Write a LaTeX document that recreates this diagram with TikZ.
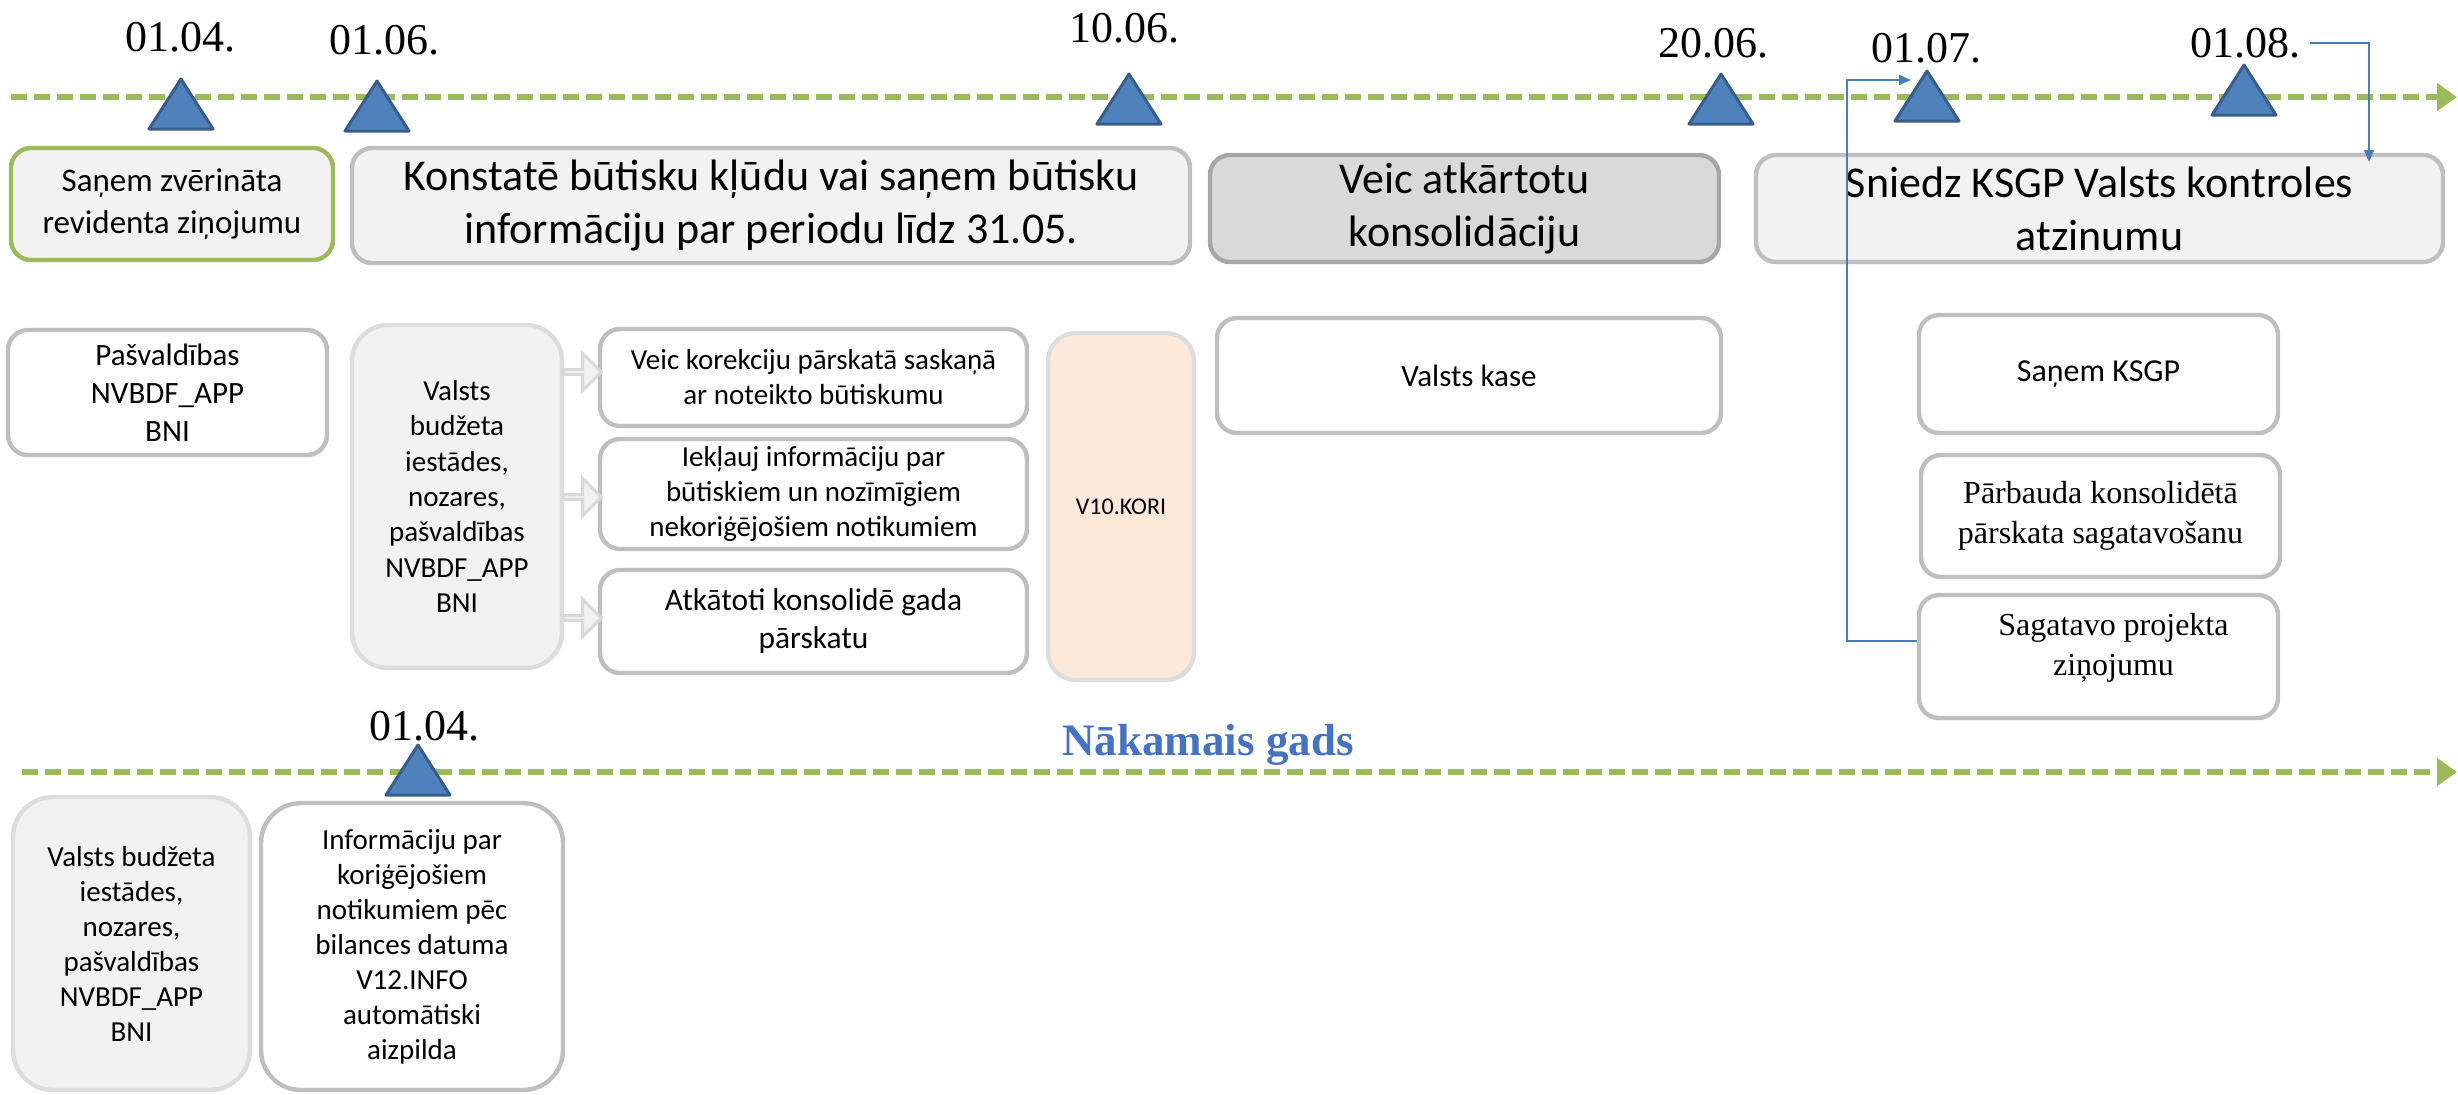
\documentclass[tikz,border=0pt]{standalone}
\usepackage{fontspec}
\setmainfont{Carlito}
\newfontfamily\timesfont{Liberation Serif}
\usetikzlibrary{arrows.meta,shapes.arrows}
\definecolor{tlgreen}{HTML}{9BBB59}
\definecolor{triblue}{HTML}{4F81BD}
\definecolor{triedge}{HTML}{385D8A}
\definecolor{boxline}{HTML}{BFBFBF}
\definecolor{boxfill}{HTML}{F2F2F2}
\definecolor{darkfill}{HTML}{D9D9D9}
\definecolor{darkline}{HTML}{A6A6A6}
\definecolor{softline}{HTML}{DDDDDD}
\definecolor{peach}{HTML}{FDE9D9}
\definecolor{linkblue}{HTML}{4A7EBB}
\definecolor{nextblue}{HTML}{4472C4}
\begin{document}
\begin{tikzpicture}[x=0.5pt, y=-0.5pt,
	box/.style={draw=boxline, fill=white, line width=2.2pt, rounded corners=10pt, align=center, inner sep=2pt, font=\fontsize{14.5}{17.5}\selectfont},
	softbox/.style={box, draw=softline, fill=boxfill, rounded corners=18pt},
	head/.style={box, fill=boxfill, font=\fontsize{22}{26.5}\selectfont},
	date/.style={font=\timesfont\fontsize{22}{26}\selectfont, inner sep=0pt},
	timeline/.style={draw=tlgreen, line width=3pt, dash pattern=on 8pt off 3.5pt, -{Triangle[length=10pt,width=13.5pt]}},
	tri/.style={fill=triblue, draw=triedge, line width=1.5pt, line join=round},
	link/.style={draw=linkblue, line width=1pt, -{Triangle[length=6pt,width=5pt]}},
	blockarr/.style={single arrow, draw=gray!30, fill=gray!10, line width=1.5pt, minimum height=19pt, minimum width=18.5pt, single arrow head extend=5pt, inner sep=0pt}]
	\useasboundingbox (0,0) rectangle (2458,1094);
	
	% time lines
	\coordinate (l1s) at (11,97);
	\coordinate (l1e) at (2457,97);
	\coordinate (l2s) at (22,772);
	\coordinate (l2e) at (2457,772);
	\draw[timeline] (l1s) -- (l1e);
	\draw[timeline] (l2s) -- (l2e);
	
	\foreach \x/\y in {181/79, 377/81, 1129/74, 1721/74, 1927/71, 2244/65, 418/745}
		\draw[tri] (\x-32,\y+50) -- (\x,\y) -- (\x+32,\y+50) -- cycle;
	
	\node[date] (d1) at (180,37) {01.04.};
	\node[date] (d2) at (384,40) {01.06.};
	\node[date] (d3) at (1124,28) {10.06.};
	\node[date] (d4) at (1713,43) {20.06.};
	\node[date] (d5) at (1926,48) {01.07.};
	\node[date] (d6) at (2245,43) {01.08.};
	\node[date] (d7) at (424,726) {01.04.};
	\node[font=\timesfont\bfseries\fontsize{22.5}{27}\selectfont, text=nextblue, inner sep=0pt] (ng) at (1208,745) {Nākamais gads};
	
	% top row
	\node[box, draw=tlgreen, fill=boxfill, minimum width=161pt, minimum height=56pt, font=\fontsize{16.5}{21}\selectfont] (b1) at (172,204) {Saņem zvērināta\\revidenta ziņojumu};
	\node[head, minimum width=419pt, minimum height=57.5pt] (b2) at (771,205.5) {Konstatē būtisku kļūdu vai saņem būtisku\\informāciju par periodu līdz 31.05.};
	\node[head, draw=darkline, fill=darkfill, minimum width=254.5pt, minimum height=53.5pt] (b3) at (1464.5,208.5) {Veic atkārtotu\\konsolidāciju};
	\node[head, minimum width=343.5pt, minimum height=53.5pt] (b4) at (2099.5,208.5) {Sniedz KSGP Valsts kontroles\\atzinumu};
	
	% middle row
	\node[box, minimum width=159.5pt, minimum height=62.5pt, font=\fontsize{15.5}{19}\selectfont] (b5) at (167.5,392.5) {Pašvaldības\\NVBDF\_APP\\BNI};
	\node[softbox, minimum width=105pt, minimum height=171.5pt, font=\fontsize{14.5}{17.7}\selectfont] (b6) at (457,496.5) {Valsts\\budžeta\\iestādes,\\nozares,\\pašvaldības\\NVBDF\_APP\\BNI};
	\node[box, minimum width=213.5pt, minimum height=48.5pt] (b7) at (813.5,377.5) {Veic korekciju pārskatā saskaņā\\ar noteikto būtiskumu};
	\node[box, minimum width=213.5pt, minimum height=55pt, font=\fontsize{14.5}{17.3}\selectfont] (b8) at (813.5,494) {Iekļauj informāciju par\\būtiskiem un nozīmīgiem\\nekoriģējošiem notikumiem};
	\node[box, minimum width=213.5pt, minimum height=51.5pt, font=\fontsize{15.7}{19}\selectfont] (b9) at (813.5,621.5) {Atkātoti konsolidē gada\\pārskatu};
	\node[softbox, fill=peach, rounded corners=14pt, minimum width=73pt, minimum height=173.5pt, font=\fontsize{12}{14}\selectfont] (b10) at (1121,506.5) {V10.KORI};
	\node[box, minimum width=252pt, minimum height=57.5pt, font=\fontsize{15.5}{19}\selectfont] (b11) at (1469,375.5) {Valsts kase};
	\node[box, minimum width=179.5pt, minimum height=59pt, font=\fontsize{16}{19}\selectfont] (b12) at (2098.5,374) {Saņem KSGP};
	\node[box, minimum width=179.5pt, minimum height=61pt, font=\timesfont\fontsize{16}{20}\selectfont] (b13) at (2100.5,516) {Pārbauda konsolidētā\\pārskata sagatavošanu};
	\node[box, minimum width=179.5pt, minimum height=61.5pt, font=\timesfont\fontsize{16}{20}\selectfont] (b14) at (2098.5,656.5) {\hspace*{15pt}Sagatavo projekta\\\hspace*{15pt}ziņojumu\\[-8pt]};
	
	\node[blockarr] (a1) at (581,372) {};
	\node[blockarr] (a2) at (581,497) {};
	\node[blockarr] (a3) at (581,618) {};
	
	% next year
	\node[softbox, rounded corners=20pt, minimum width=118.5pt, minimum height=146.5pt] (b15) at (131.5,943.5) {Valsts budžeta\\iestādes,\\nozares,\\pašvaldības\\NVBDF\_APP\\BNI};
	\node[box, rounded corners=20pt, minimum width=151pt, minimum height=143.5pt] (b16) at (412,946.5) {Informāciju par\\koriģējošiem\\notikumiem pēc\\bilances datuma\\V12.INFO\\automātiski\\aizpilda};
	
	\coordinate (c1) at (2369,162);
	\coordinate (c2) at (1911,80);
	\draw[link, shorten <=5pt] (d6.east) -| (c1);
	\draw[link] ([yshift=8pt]b14.west) -- ++(-70,0) |- (c2);
	
\end{tikzpicture}
\end{document}
